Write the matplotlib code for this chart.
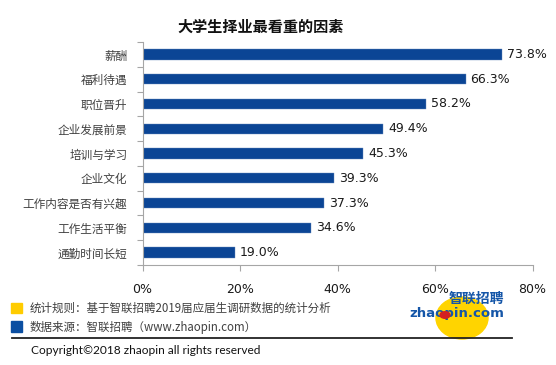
import matplotlib
matplotlib.use("Agg")
import matplotlib.pyplot as plt
from matplotlib.patches import Rectangle, Ellipse, Circle
from matplotlib.lines import Line2D

plt.rcParams['font.family'] = ['Noto Sans CJK SC', 'DejaVu Sans']

# data (top to bottom as in the chart)
categories = ["薪酬", "福利待遇", "职位晋升", "企业发展前景", "培训与学习",
              "企业文化", "工作内容是否有兴趣", "工作生活平衡", "通勤时间长短"]
values = [73.8, 66.3, 58.2, 49.4, 45.3, 39.3, 37.3, 34.6, 19.0]
x_ticks = [0, 20, 40, 60, 80]
x_tick_labels = ["0%", "20%", "40%", "60%", "80%"]

title = "大学生择业最看重的因素"
note_rule = "统计规则：基于智联招聘2019届应届生调研数据的统计分析"
note_source = "数据来源：智联招聘（www.zhaopin.com）"
copyright_text = "Copyright©2018 zhaopin all rights reserved"

W, H = 556, 365
bar_color = "#0B4595"
axis_color = "#A6A6A6"
text_color = "#404040"

fig = plt.figure(figsize=(W / 100, H / 100), dpi=100)
ax = fig.add_axes([142.5 / W, 1 - 265 / H, 390 / W, 223 / H])

n = len(categories)
ypos = list(range(n))
ax.barh(ypos, values, height=0.42, color=bar_color, edgecolor="#6A8CC0", linewidth=0.3)
for y, v in zip(ypos, values):
    ax.text(v + 1.0, y, f"{v:.1f}%", va="center", ha="left", fontsize=9,
            color="#1a1a1a", family="DejaVu Sans")

ax.set_xlim(0, 80)
ax.set_ylim(n - 0.5, -0.5)
ax.set_xticks(x_ticks)
ax.set_xticklabels(x_tick_labels, fontsize=9, color="#1a1a1a", family="DejaVu Sans")
ax.set_yticks(ypos)
ax.set_yticklabels(categories, fontsize=8.4, color=text_color)
ax.set_yticks([i - 0.5 for i in range(n + 1)], minor=True)
ax.tick_params(axis="y", which="major", length=0, pad=11)
ax.tick_params(axis="y", which="minor", length=4, color=axis_color, width=0.8)
ax.tick_params(axis="x", which="major", length=4, color=axis_color, width=0.8, pad=9)

for s in ["top", "right"]:
    ax.spines[s].set_visible(False)
for s in ["left", "bottom"]:
    ax.spines[s].set_color(axis_color)
    ax.spines[s].set_linewidth(0.8)

fig.text(261 / W, 1 - 27 / H, title, ha="center", va="center", fontsize=10.9,
         fontweight="bold", color="#111111")

# footer notes
fig.patches.append(Rectangle((11 / W, 1 - 313 / H), 11 / W, 10 / H,
                             transform=fig.transFigure, color="#FFCC00"))
fig.patches.append(Rectangle((11 / W, 1 - 332 / H), 11 / W, 11 / H,
                             transform=fig.transFigure, color="#0B4FA2"))
fig.text(30 / W, 1 - 308 / H, note_rule, ha="left", va="center", fontsize=8.3, color="#404040")
fig.text(30 / W, 1 - 327 / H, note_source, ha="left", va="center", fontsize=8.3, color="#404040")

# logo (drawn before the separator line so the line sits on top)
fig.patches.append(Ellipse((462 / W, 1 - 318 / H), 52 / W, 42 / H,
                           transform=fig.transFigure, color="#FFD400", zorder=1))
fig.text(476 / W, 1 - 299 / H, "智联招聘", ha="center", va="center", fontsize=10,
         fontweight="bold", style="italic", color="#1556A8", zorder=3)
fig.text(457 / W, 1 - 314 / H, "zhaopin.com", ha="center", va="center", fontsize=9.5,
         fontweight="bold", color="#1556A8", family="DejaVu Sans", zorder=3)
fig.patches.append(Circle((445 / W, 1 - 315 / H), 5 / W, transform=fig.transFigure,
                          color="#D42020", zorder=4))

fig.lines.append(Line2D([12 / W, 512 / W], [1 - 338 / H, 1 - 338 / H],
                        transform=fig.transFigure, color="#222222", linewidth=1.3, zorder=5))
fig.text(31 / W, 1 - 351 / H, copyright_text, ha="left", va="center", fontsize=8.6,
         color="#111111", family="Lato")

fig.savefig("out.png", dpi=100)
